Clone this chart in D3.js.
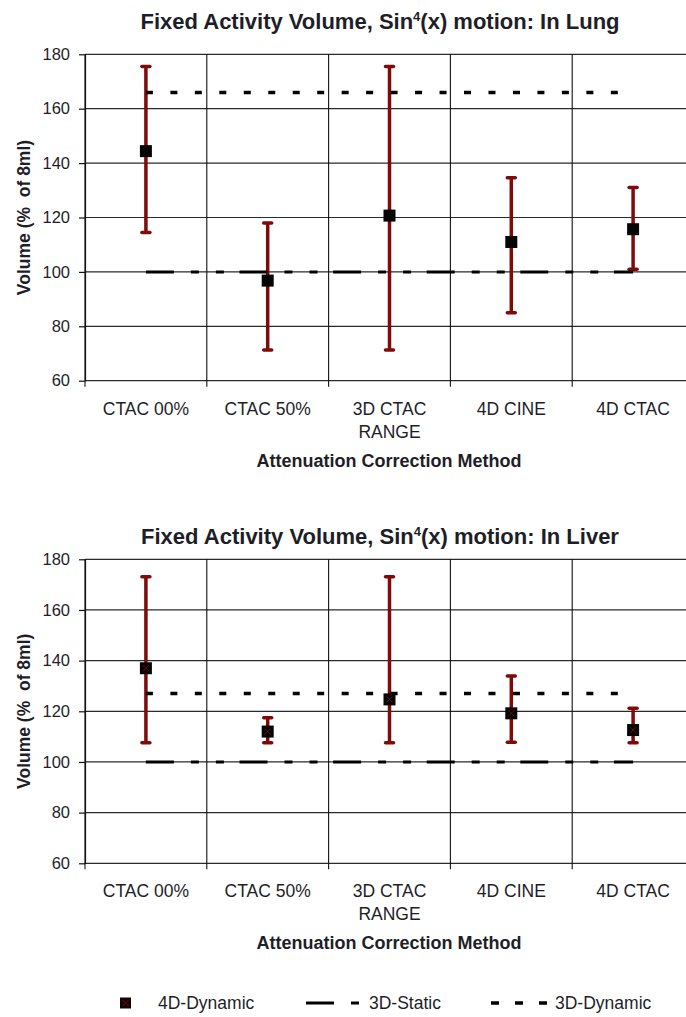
<!DOCTYPE html>
<html>
<head>
<meta charset="utf-8">
<script src="https://cdn.jsdelivr.net/npm/d3@7"></script>
<style>
  html, body { margin: 0; padding: 0; background: #ffffff; }
  svg { display: block; }
  text { font-family: "Liberation Sans", Arial, sans-serif; fill: #1e1e28; }
</style>
</head>
<body>
<svg id="chart" width="686" height="1017"></svg>
<script>
// ---------- data ----------
const categories = ["CTAC 00%", "CTAC 50%", "3D CTAC RANGE", "4D CINE", "4D CTAC"];
const categoryLabelLines = [["CTAC 00%"], ["CTAC 50%"], ["3D CTAC", "RANGE"], ["4D CINE"], ["4D CTAC"]];
const yTicks = [60, 80, 100, 120, 140, 160, 180];

const lungDynamic4D = [144.4, 96.8, 120.7, 111.0, 115.7];
const lungLow       = [114.5, 71.3, 71.3, 85.0, 101.0];
const lungHigh      = [175.5, 118.0, 175.5, 134.6, 131.0];
const lungStatic3D  = [100, 100, 100, 100, 100];
const lungDynamic3D = [166, 166, 166, 166, 166];

const liverDynamic4D = [137.0, 112.0, 124.7, 119.2, 112.6];
const liverLow       = [107.6, 107.6, 107.6, 107.8, 107.6];
const liverHigh      = [173.1, 117.5, 173.1, 133.9, 121.2];
const liverStatic3D  = [100, 100, 100, 100, 100];
const liverDynamic3D = [127, 127, 127, 127, 127];

const legendLabels = ["4D-Dynamic", "3D-Static", "3D-Dynamic"];

// ---------- drawing ----------
const svg = d3.select("#chart");
svg.append("rect").attr("width", 686).attr("height", 1017).attr("fill", "#ffffff");

const RED = "#7f0a0a";
const STATIC_DASH = "28,17,8,17,8,15.6";
const DYN_DASH = "7,17.47";

function drawPanel(opts) {
  const g = svg.append("g");
  const x = d3.scaleBand().domain(categories).range([85, 694]).padding(0);
  const y = d3.scaleLinear().domain([60, 180]).range([opts.bottom, opts.top]);
  const cx = c => x(c) + x.bandwidth() / 2;

  // title
  const t = g.append("text")
    .attr("x", 380).attr("y", opts.titleY)
    .attr("text-anchor", "middle")
    .style("font-size", "22px").style("font-weight", "bold");
  t.append("tspan").text("Fixed Activity Volume, Sin");
  t.append("tspan").attr("dy", -8).style("font-size", "13px").text("4");
  t.append("tspan").attr("dy", 8).text("(x) motion: " + opts.organ);

  // horizontal gridlines
  g.append("g").selectAll("line").data(yTicks).join("line")
    .attr("x1", 85).attr("x2", 694)
    .attr("y1", d => y(d)).attr("y2", d => y(d))
    .attr("stroke", "#2a2a2a").attr("stroke-width", 1.2);

  // vertical category dividers + ticks below axis
  g.append("g").selectAll("line").data(categories).join("line")
    .attr("x1", d => x(d)).attr("x2", d => x(d))
    .attr("y1", y(180)).attr("y2", y(60) + 6)
    .attr("stroke", "#111").attr("stroke-width", 1.1);

  // y axis
  const ya = g.append("g").attr("transform", "translate(85,0)")
    .call(d3.axisLeft(y).tickValues(yTicks).tickSize(6).tickSizeOuter(0).tickPadding(9));
  ya.select(".domain").attr("stroke", "#111").attr("stroke-width", 1.2);
  ya.selectAll(".tick line").attr("stroke", "#111").attr("stroke-width", 1.2);
  ya.selectAll(".tick text")
    .style("font-family", "'Liberation Sans', Arial, sans-serif")
    .style("font-size", "16.5px").attr("fill", "#2a2a35");

  // x labels
  categories.forEach((c, i) => {
    categoryLabelLines[i].forEach((ln, j) => {
      g.append("text").attr("x", cx(c)).attr("y", opts.bottom + 34 + j * 23)
        .attr("text-anchor", "middle").style("font-size", "17.5px").text(ln);
    });
  });

  // x axis title
  g.append("text").attr("x", 389).attr("y", opts.bottom + 86)
    .attr("text-anchor", "middle").style("font-size", "18px").style("font-weight", "bold")
    .text("Attenuation Correction Method");

  // y axis title
  g.append("text")
    .attr("transform", `translate(30,${(opts.top + opts.bottom) / 2}) rotate(-90)`)
    .attr("text-anchor", "middle").style("font-size", "17.5px").style("font-weight", "bold")
    .style("white-space", "pre")
    .text("Volume (%  of 8ml)");

  // error bars
  const eb = g.append("g");
  categories.forEach((c, i) => {
    eb.append("line").attr("x1", cx(c)).attr("x2", cx(c))
      .attr("y1", y(opts.high[i])).attr("y2", y(opts.low[i]))
      .attr("stroke", RED).attr("stroke-width", 3.5);
    [opts.high[i], opts.low[i]].forEach(v => {
      eb.append("line").attr("x1", cx(c) - 4).attr("x2", cx(c) + 4)
        .attr("y1", y(v)).attr("y2", y(v))
        .attr("stroke", RED).attr("stroke-width", 3.5).attr("stroke-linecap", "round");
    });
  });

  // lines
  const line = d3.line().x((d, i) => cx(categories[i])).y(d => y(d));
  g.append("path").datum(opts.static3D).attr("d", line)
    .attr("fill", "none").attr("stroke", "#000").attr("stroke-width", 3)
    .attr("stroke-dasharray", STATIC_DASH);
  g.append("path").datum(opts.dynamic3D).attr("d", line)
    .attr("fill", "none").attr("stroke", "#000").attr("stroke-width", 3.5)
    .attr("stroke-dasharray", DYN_DASH);

  // markers
  const mk = g.append("g");
  categories.forEach((c, i) => {
    const px = cx(c), py = y(opts.values[i]);
    mk.append("rect").attr("x", px - 6).attr("y", py - 6).attr("width", 12).attr("height", 12)
      .attr("fill", "#050505");
    if (opts.cross) {
      mk.append("path").attr("d", `M${px - 3},${py - 3}L${px + 3},${py + 3}M${px + 3},${py - 3}L${px - 3},${py + 3}`)
        .attr("stroke", "#6a0c0c").attr("stroke-width", 1);
    }
  });
}

drawPanel({ organ: "In Lung", titleY: 29, top: 54.3, bottom: 380.7,
  values: lungDynamic4D, low: lungLow, high: lungHigh,
  static3D: lungStatic3D, dynamic3D: lungDynamic3D, cross: false });

drawPanel({ organ: "In Liver", titleY: 544, top: 559.3, bottom: 863.3,
  values: liverDynamic4D, low: liverLow, high: liverHigh,
  static3D: liverStatic3D, dynamic3D: liverDynamic3D, cross: true });

// legend
const lg = svg.append("g");
const ly = 1003;
lg.append("rect").attr("x", 120).attr("y", ly - 5.5).attr("width", 11).attr("height", 11).attr("fill", "#150505");
lg.append("path").attr("d", `M${122.5},${ly - 3}L${128.5},${ly + 3}M${128.5},${ly - 3}L${122.5},${ly + 3}`)
  .attr("stroke", "#6a0c0c").attr("stroke-width", 1);
lg.append("text").attr("x", 158).attr("y", ly + 6).style("font-size", "17.5px").text(legendLabels[0]);

lg.append("path").attr("d", `M306,${ly}L359,${ly}`).attr("stroke", "#000").attr("stroke-width", 3)
  .attr("stroke-dasharray", "28,17,8");
lg.append("text").attr("x", 369).attr("y", ly + 6).style("font-size", "17.5px").text(legendLabels[1]);

lg.append("path").attr("d", `M491,${ly}L547,${ly}`).attr("stroke", "#000").attr("stroke-width", 3.5)
  .attr("stroke-dasharray", "8,16");
lg.append("text").attr("x", 555).attr("y", ly + 6).style("font-size", "17.5px").text(legendLabels[2]);
</script>
</body>
</html>
